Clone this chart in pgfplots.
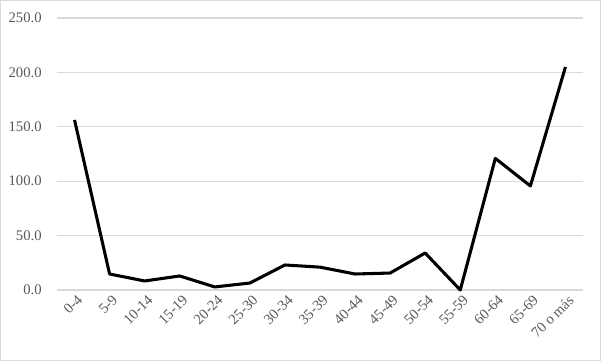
\documentclass[border=0pt]{standalone}
\usepackage{pgfplots}
\pgfplotsset{compat=1.18}
\usepackage{fontspec}
\setmainfont{Liberation Serif}
\definecolor{gridc}{HTML}{D9D9D9}
\definecolor{labc}{HTML}{595959}
\begin{document}
\begin{tikzpicture}
\useasboundingbox (0,0) rectangle (450.75pt,270.75pt);
\draw[gridc,line width=1.1pt] (0.55pt,0.55pt) rectangle (450.2pt,270.2pt);
\begin{axis}[
  at={(42.75pt,53.25pt)}, anchor=south west,
  scale only axis, width=394.5pt, height=204pt,
  xmin=-0.5, xmax=14.5, ymin=0, ymax=250,
  ytick={0,50,...,250},
  xtick={0,...,14},
  xticklabels={0-4,5-9,10-14,15-19,20-24,25-30,30-34,35-39,40-44,45-49,50-54,55-59,60-64,65-69,70 o más},
  x tick label style={rotate=45, anchor=north east, font=\fontsize{11}{13}\selectfont, text=labc, inner sep=1pt, yshift=-2pt},
  y tick label style={font=\fontsize{11}{13}\selectfont, text=labc, xshift=-8pt},
  /pgf/number format/fixed, /pgf/number format/fixed zerofill, /pgf/number format/precision=1, /pgf/number format/assume math mode=true,
  ymajorgrids, grid style={gridc, line width=0.8pt},
  axis line style={draw=none},
  major tick length=0pt,
  clip=false,
]
\addplot[black, line width=2.3pt, line join=round] coordinates {
(0,156.3) (1,14.7) (2,8.3) (3,12.9) (4,2.8) (5,6.4) (6,23) (7,21) (8,14.7) (9,15.6) (10,34) (11,0) (12,121) (13,95.6) (14,205)
};
\end{axis}
\end{tikzpicture}
\end{document}
